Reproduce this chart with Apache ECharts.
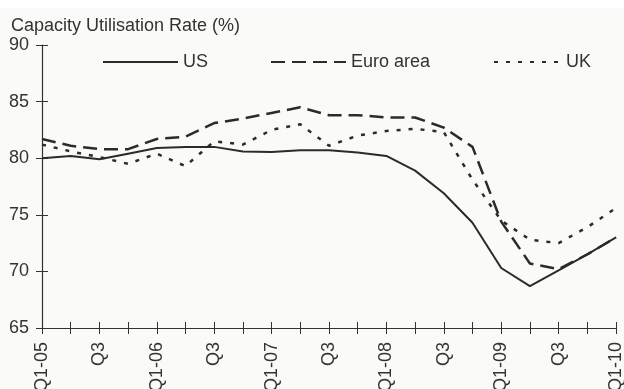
<!DOCTYPE html>
<html>
<head>
<meta charset="utf-8">
<script src="https://cdn.jsdelivr.net/npm/echarts@6/dist/echarts.min.js"></script>
<style>
html,body{margin:0;padding:0;background:#fafaf8;}
#c{width:624px;height:389px;}
</style>
</head>
<body>
<div id="c"></div>
<script>
var categories = ['Q1-05','Q2','Q3','Q4','Q1-06','Q2','Q3','Q4','Q1-07','Q2','Q3','Q4','Q1-08','Q2','Q3','Q4','Q1-09','Q2','Q3','Q4','Q1-10'];
var usValues   = [80.0,80.2,79.9,80.4,80.9,81.0,81.0,80.6,80.55,80.7,80.7,80.5,80.2,78.9,76.9,74.3,70.3,68.7,70.1,71.5,73.0];
var euroValues = [81.7,81.1,80.8,80.8,81.7,81.9,83.1,83.5,84.0,84.5,83.8,83.8,83.6,83.6,82.7,81.0,74.4,70.7,70.2,71.5,73.0];
var ukValues   = [81.2,80.6,80.1,79.5,80.4,79.3,81.5,81.2,82.5,83.0,81.1,82.0,82.4,82.6,82.3,78.1,74.5,72.8,72.5,73.9,75.6];
var yTicks = [65,70,75,80,85,90];

var txt = '#333333';
var font = 'Liberation Sans, Arial, sans-serif';
var chart = echarts.init(document.getElementById('c'));
var lineColor = '#2b2b2b';
function legendCfg(name, left, w) {
  return {data:[name], left:left, top:53, padding:0, itemWidth:w, itemHeight:18, itemGap:5,
    itemStyle:{opacity:0},
    textStyle:{fontFamily:font, fontSize:18, color:txt}};
}
chart.setOption({
  backgroundColor: '#fafaf8',
  animation: false,
  graphic: [{type:'rect', shape:{x:0,y:0,width:624,height:8}, style:{fill:'#ffffff'}, z:-10}],
  title: {text:'Capacity Utilisation Rate (%)', left: 6, top: 12,
    textStyle:{fontFamily:font, fontSize:18, fontWeight:'normal', color:txt}},
  legend: [
    legendCfg('US', 102, 75),
    legendCfg('Euro area', 270, 75),
    legendCfg('UK', 493, 67)
  ],
  grid: {left:42, right:8, top:45, bottom:61, containLabel:false, outerBoundsMode:'none'},
  xAxis: [{
    type:'category', data:categories, boundaryGap:false,
    axisLine:{lineStyle:{color:'#333', width:1.2}},
    axisTick:{show:true, interval:0, length:6, lineStyle:{color:'#333'}},
    axisLabel:{interval:1, rotate:90, margin:14, fontFamily:font, fontSize:18, color:txt},
    splitLine:{show:false}
  },{
    type:'category', data:categories, boundaryGap:false, position:'bottom',
    axisLine:{show:false},
    axisTick:{show:true, inside:true, interval:0, length:6, lineStyle:{color:'#333'}},
    axisLabel:{show:false}, splitLine:{show:false}
  }],
  yAxis: [{
    type:'value', min:yTicks[0], max:yTicks[yTicks.length-1], interval:5,
    axisLine:{show:true, lineStyle:{color:'#333', width:1.2}},
    axisTick:{show:true, length:6, lineStyle:{color:'#333'}},
    axisLabel:{margin:13, fontFamily:font, fontSize:18, color:txt},
    splitLine:{show:false}
  },{
    type:'value', min:yTicks[0], max:yTicks[yTicks.length-1], interval:5, position:'left',
    axisLine:{show:false},
    axisTick:{show:true, inside:true, length:6, lineStyle:{color:'#333'}},
    axisLabel:{show:false}, splitLine:{show:false}
  }],
  series: [
    {name:'US', type:'line', data:usValues, showSymbol:false, symbol:'none',
      lineStyle:{color:lineColor, width:2, type:'solid'}, itemStyle:{color:lineColor}},
    {name:'Euro area', type:'line', data:euroValues, showSymbol:false, symbol:'none',
      lineStyle:{color:lineColor, width:2.5, type:[14,7]}, itemStyle:{color:lineColor}},
    {name:'UK', type:'line', data:ukValues, showSymbol:false, symbol:'none',
      lineStyle:{color:lineColor, width:2.5, type:[4,8]}, itemStyle:{color:lineColor}}
  ]
});
</script>
</body>
</html>
